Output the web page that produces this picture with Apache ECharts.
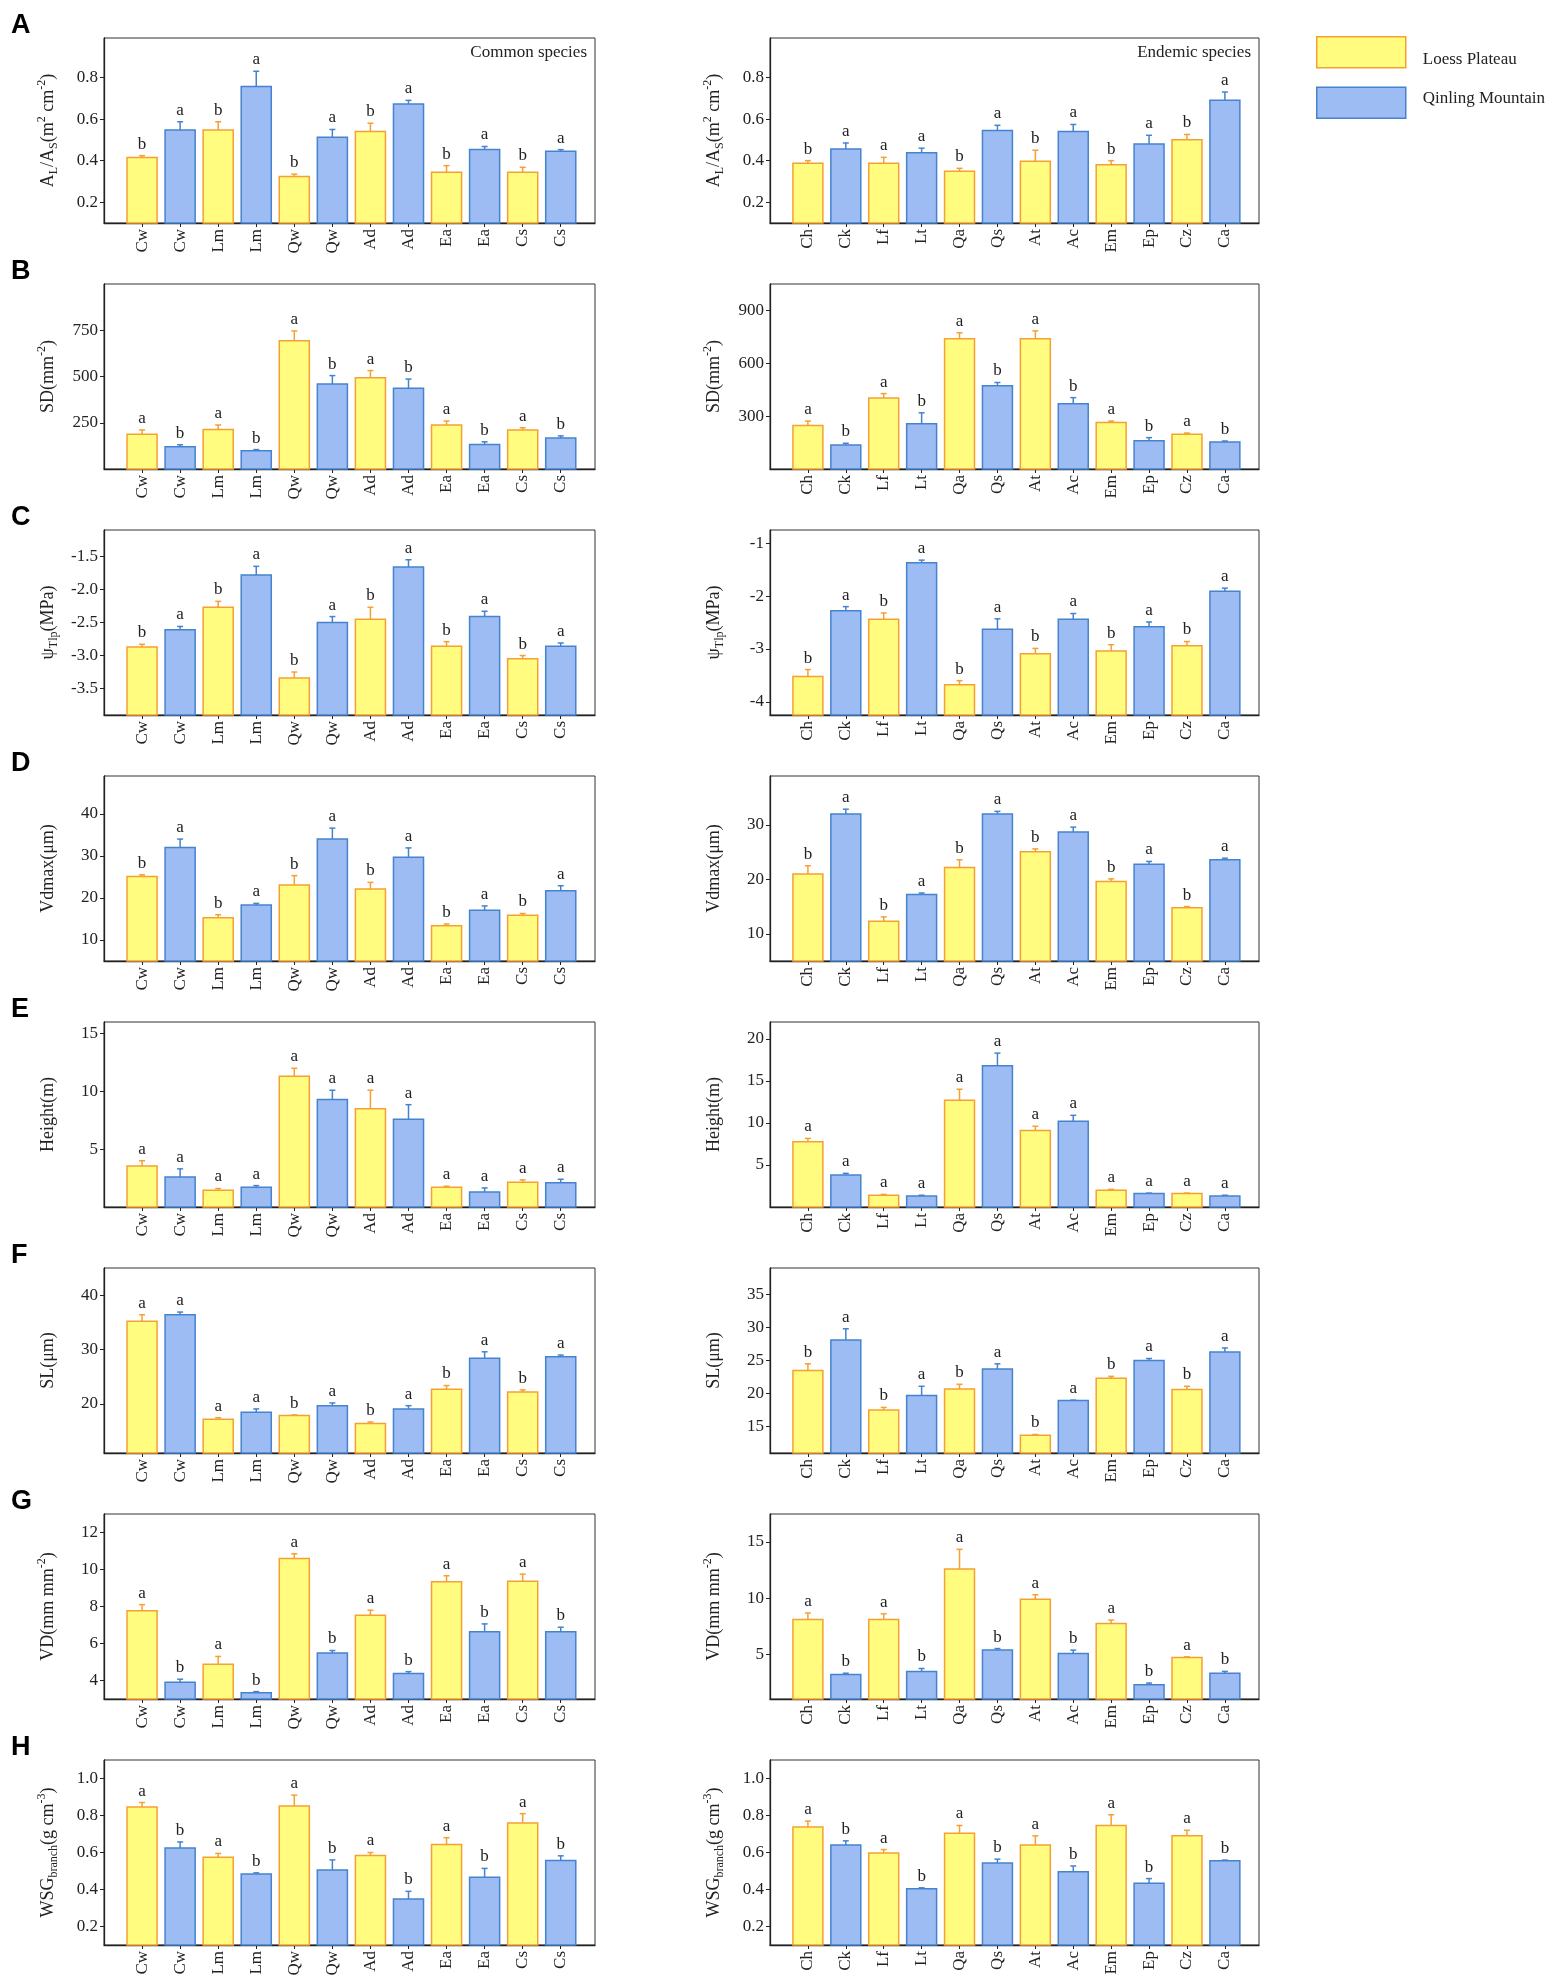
<!DOCTYPE html>
<html><head><meta charset="utf-8">
<script src="https://cdn.jsdelivr.net/npm/echarts@6/dist/echarts.min.js"></script>
<style>html,body{margin:0;padding:0;background:#fff}#chart{width:1562px;height:1983px}</style>
</head><body><div id="chart"></div>
<script>
// ---------- categories ----------
const commonSpecies  = ['Cw','Cw','Lm','Lm','Qw','Qw','Ad','Ad','Ea','Ea','Cs','Cs'];
const endemicSpecies = ['Ch','Ck','Lf','Lt','Qa','Qs','At','Ac','Em','Ep','Cz','Ca'];
const regions = ['Loess Plateau', 'Qinling Mountain'];
const panelLetters = ['A','B','C','D','E','F','G','H'];
const groupLabels = ['Common species', 'Endemic species'];

// ---------- A: AL/AS ----------
const alasCommon      = [0.415,0.547,0.547,0.757,0.324,0.512,0.540,0.673,0.344,0.453,0.344,0.445];
const alasCommonSE    = [0.009,0.040,0.040,0.073,0.011,0.038,0.040,0.017,0.032,0.015,0.024,0.008];
const alasCommonSig   = ['b','a','b','a','b','a','b','a','b','a','b','a'];
const alasEndemic     = [0.387,0.456,0.387,0.438,0.349,0.545,0.397,0.540,0.380,0.480,0.500,0.690];
const alasEndemicSE   = [0.013,0.029,0.029,0.022,0.014,0.025,0.053,0.034,0.020,0.042,0.026,0.040];
const alasEndemicSig  = ['b','a','a','a','b','a','b','a','b','a','b','a'];
// ---------- B: SD ----------
const sdCommon        = [188,120,213,99,693,459,493,436,238,133,211,167];
const sdCommonSE      = [23,11,25,6,53,46,39,50,21,14,12,12];
const sdCommonSig     = ['a','b','a','b','a','b','a','b','a','b','a','b'];
const sdEndemic       = [247,136,403,257,739,473,739,371,264,161,197,153];
const sdEndemicSE     = [25,10,25,62,34,18,45,34,8,17,7,6];
const sdEndemicSig    = ['a','b','a','b','a','b','a','b','a','b','a','b'];
// ---------- C: psi TLP ----------
const psiCommon       = [-2.87,-2.61,-2.27,-1.78,-3.34,-2.50,-2.45,-1.66,-2.86,-2.41,-3.05,-2.86];
const psiCommonSE     = [0.04,0.05,0.09,0.13,0.09,0.09,0.18,0.11,0.07,0.08,0.05,0.05];
const psiCommonSig    = ['b','a','b','a','b','a','b','a','b','a','b','a'];
const psiEndemic      = [-3.52,-2.28,-2.44,-1.37,-3.68,-2.63,-3.09,-2.44,-3.04,-2.58,-2.94,-1.91];
const psiEndemicSE    = [0.13,0.08,0.12,0.05,0.08,0.20,0.10,0.11,0.12,0.09,0.08,0.06];
const psiEndemicSig   = ['b','a','b','a','b','a','b','a','b','a','b','a'];
// ---------- D: Vdmax ----------
const vdmaxCommon     = [25.1,32.0,15.3,18.3,23.1,34.0,22.1,29.7,13.4,17.1,15.9,21.7];
const vdmaxCommonSE   = [0.4,2.0,0.7,0.4,2.2,2.6,1.6,2.2,0.4,1.0,0.4,1.2];
const vdmaxCommonSig  = ['b','a','b','a','b','a','b','a','b','a','b','a'];
const vdmaxEndemic    = [21.0,32.0,12.3,17.2,22.2,32.0,25.1,28.7,19.6,22.8,14.8,23.6];
const vdmaxEndemicSE  = [1.5,0.9,0.8,0.3,1.4,0.5,0.5,0.9,0.5,0.5,0.2,0.3];
const vdmaxEndemicSig = ['b','a','b','a','b','a','b','a','b','a','b','a'];
// ---------- E: Height ----------
const heightCommon    = [3.54,2.6,1.45,1.7,11.3,9.3,8.5,7.6,1.7,1.3,2.15,2.1];
const heightCommonSE  = [0.46,0.7,0.15,0.15,0.7,0.8,1.6,1.25,0.1,0.35,0.2,0.3];
const heightCommonSig = ['a','a','a','a','a','a','a','a','a','a','a','a'];
const heightEndemic   = [7.76,3.8,1.4,1.3,12.7,16.8,9.1,10.2,2.0,1.6,1.6,1.3];
const heightEndemicSE = [0.4,0.2,0.1,0.1,1.3,1.5,0.5,0.7,0.1,0.05,0.05,0.1];
const heightEndemicSig= ['a','a','a','a','a','a','a','a','a','a','a','a'];
// ---------- F: SL ----------
const slCommon        = [35.2,36.4,17.2,18.5,17.9,19.7,16.4,19.1,22.7,28.4,22.2,28.7];
const slCommonSE      = [1.2,0.5,0.3,0.6,0.1,0.5,0.3,0.6,0.7,1.2,0.4,0.3];
const slCommonSig     = ['a','a','a','a','b','a','b','a','b','a','b','a'];
const slEndemic       = [23.5,28.1,17.5,19.7,20.7,23.7,13.7,18.95,22.3,25.0,20.6,26.3];
const slEndemicSE     = [1.0,1.7,0.4,1.4,0.7,0.8,0.1,0.05,0.3,0.3,0.5,0.6];
const slEndemicSig    = ['b','a','b','a','b','a','b','a','b','a','b','a'];
// ---------- G: VD ----------
const vdCommon        = [7.77,3.9,4.88,3.34,10.6,5.48,7.53,4.38,9.34,6.63,9.37,6.63];
const vdCommonSE      = [0.33,0.17,0.42,0.06,0.25,0.14,0.27,0.1,0.32,0.43,0.38,0.25];
const vdCommonSig     = ['a','b','a','b','a','b','a','b','a','b','a','b'];
const vdEndemic       = [8.1,3.19,8.1,3.46,12.6,5.36,9.9,5.06,7.74,2.27,4.7,3.3];
const vdEndemicSE     = [0.57,0.11,0.5,0.26,1.75,0.14,0.4,0.3,0.3,0.15,0.06,0.16];
const vdEndemicSig    = ['a','b','a','b','a','b','a','b','a','b','a','b'];
// ---------- H: WSG branch ----------
const wsgCommon       = [0.846,0.625,0.575,0.484,0.852,0.506,0.584,0.348,0.643,0.466,0.760,0.557];
const wsgCommonSE     = [0.024,0.032,0.020,0.006,0.058,0.054,0.016,0.042,0.037,0.048,0.050,0.025];
const wsgCommonSig    = ['a','b','a','b','a','b','a','b','a','b','a','b'];
const wsgEndemic      = [0.738,0.640,0.597,0.404,0.704,0.543,0.640,0.496,0.746,0.434,0.690,0.555];
const wsgEndemicSE    = [0.032,0.023,0.019,0.005,0.042,0.021,0.050,0.031,0.058,0.025,0.030,0.004];
const wsgEndemicSig   = ['a','b','a','b','a','b','a','b','a','b','a','b'];

// ---------- tick labels ----------
const alasTicks = [0.2,0.4,0.6,0.8];
const sdCommonTicks = [250,500,750];
const sdEndemicTicks = [300,600,900];
const psiCommonTicks = [-3.5,-3.0,-2.5,-2.0,-1.5];
const psiEndemicTicks = [-4,-3,-2,-1];
const vdmaxCommonTicks = [10,20,30,40];
const vdmaxEndemicTicks = [10,20,30];
const heightCommonTicks = [5,10,15];
const heightEndemicTicks = [5,10,15,20];
const slCommonTicks = [20,30,40];
const slEndemicTicks = [15,20,25,30,35];
const vdCommonTicks = [4,6,8,10,12];
const vdEndemicTicks = [5,10,15];
const wsgTicks = [0.2,0.4,0.6,0.8,1.0];
const barPositions = [1,2,3,4,5,6,7,8,9,10,11,12];

// ---------- axis titles (rich text) ----------
const axisTitles = [
  '{n|A}{sub|L}{n|/A}{sub|S}{n|(m}{sup|2}{n| cm}{sup|-2}{n|)}',
  '{n|SD(mm}{sup|-2}{n|)}',
  '{n|ψ}{sub|Tlp}{n|(MPa)}',
  '{n|Vdmax(μm)}',
  '{n|Height(m)}',
  '{n|SL(μm)}',
  '{n|VD(mm mm}{sup|-2}{n|)}',
  '{n|WSG}{sub|branch}{n|(g cm}{sup|-3}{n|)}'
];

// panel table: [mean, se, sig, yMin, yMax, ticks, decimals]
const panels = [
  [[alasCommon, alasCommonSE, alasCommonSig, 0.1, 0.99, alasTicks, 1],
   [alasEndemic, alasEndemicSE, alasEndemicSig, 0.1, 0.99, alasTicks, 1]],
  [[sdCommon, sdCommonSE, sdCommonSig, 0, 1000, sdCommonTicks, 0],
   [sdEndemic, sdEndemicSE, sdEndemicSig, 0, 1050, sdEndemicTicks, 0]],
  [[psiCommon, psiCommonSE, psiCommonSig, -3.9, -1.1, psiCommonTicks, 1],
   [psiEndemic, psiEndemicSE, psiEndemicSig, -4.25, -0.75, psiEndemicTicks, 0]],
  [[vdmaxCommon, vdmaxCommonSE, vdmaxCommonSig, 5, 49, vdmaxCommonTicks, 0],
   [vdmaxEndemic, vdmaxEndemicSE, vdmaxEndemicSig, 5, 39, vdmaxEndemicTicks, 0]],
  [[heightCommon, heightCommonSE, heightCommonSig, 0, 16, heightCommonTicks, 0],
   [heightEndemic, heightEndemicSE, heightEndemicSig, 0, 22, heightEndemicTicks, 0]],
  [[slCommon, slCommonSE, slCommonSig, 11, 45, slCommonTicks, 0],
   [slEndemic, slEndemicSE, slEndemicSig, 11, 39, slEndemicTicks, 0]],
  [[vdCommon, vdCommonSE, vdCommonSig, 3, 13, vdCommonTicks, 0],
   [vdEndemic, vdEndemicSE, vdEndemicSig, 1, 17.5, vdEndemicTicks, 0]],
  [[wsgCommon, wsgCommonSE, wsgCommonSig, 0.1, 1.1, wsgTicks, 1],
   [wsgEndemic, wsgEndemicSE, wsgEndemicSig, 0.1, 1.1, wsgTicks, 1]]
];

// ---------- styles ----------
const SERIF = '"Liberation Serif", "Times New Roman", serif';
const TXT = '#222';
const fills = ['#FFFC80', '#9DBCF3'];
const edges = ['#F5A033', '#4583CE'];
const gridLeft = [104, 770], gridWidth = [491, 489];
const gridTop0 = 38, rowStep = 246, gridH = 185;

const richTitle = {
  n:   {fontFamily: SERIF, fontSize: 18, color: TXT, lineHeight: 24, verticalAlign: 'middle'},
  sup: {fontFamily: SERIF, fontSize: 12, color: TXT, lineHeight: 24, verticalAlign: 'top'},
  sub: {fontFamily: SERIF, fontSize: 12, color: TXT, lineHeight: 24, verticalAlign: 'bottom'}
};

const grids = [], xAxes = [], yAxes = [], series = [];
panels.forEach((row, r) => {
  row.forEach((p, c) => {
    const gi = grids.length;
    const [mean, se, sig, yMin, yMax, ticks, dec] = p;
    const cats = c === 0 ? commonSpecies : endemicSpecies;
    grids.push({left: gridLeft[c], width: gridWidth[c], top: gridTop0 + r * rowStep, height: gridH,
      show: true, borderColor: '#333', borderWidth: 1, backgroundColor: 'transparent', containLabel: false});
    xAxes.push({type: 'value', gridIndex: gi, min: 0, max: 12.9,
      axisLine: {show: true, onZero: false, lineStyle: {color: '#222', width: 1.3}},
      axisTick: {show: true, length: 4, customValues: barPositions, lineStyle: {color: '#222'}},
      axisLabel: {show: true, customValues: barPositions, rotate: 90, margin: 6,
        fontFamily: SERIF, fontSize: 17, color: TXT,
        formatter: v => cats[Math.round(v) - 1] || ''},
      splitLine: {show: false}});
    yAxes.push({type: 'value', gridIndex: gi, min: yMin, max: yMax,
      axisLine: {show: true, onZero: false, lineStyle: {color: '#222', width: 1.3}},
      axisTick: {show: true, length: 4, customValues: ticks, lineStyle: {color: '#222'}},
      axisLabel: {show: true, customValues: ticks, margin: 6, fontFamily: SERIF, fontSize: 17, color: TXT,
        formatter: v => Number(v).toFixed(dec)},
      splitLine: {show: false},
      name: axisTitles[r], nameLocation: 'middle', nameGap: 44,
      nameTextStyle: {rich: richTitle}});
    [0, 1].forEach(reg => {
      const data = [], letters = [];
      for (let k = 0; k < 12; k++) {
        if (k % 2 === reg) { data.push([barPositions[k], mean[k], se[k]]); letters.push(sig[k]); }
      }
      const fill = fills[reg], edge = edges[reg];
      series.push({
        type: 'custom', name: regions[reg], xAxisIndex: gi, yAxisIndex: gi, data: data,
        itemStyle: {color: fill, borderColor: edge, borderWidth: 1.5},
        renderItem: (params, api) => {
          const x = api.value(0), m = api.value(1), e = api.value(2);
          const top = api.coord([x, m]);
          const base = api.coord([x, yMin]);
          const errP = api.coord([x, m + e]);
          const w = api.size([0.79, 0])[0];
          return {type: 'group', children: [
            {type: 'rect', shape: {x: top[0] - w / 2, y: top[1], width: w, height: base[1] - top[1]},
              style: {fill: fill, stroke: edge, lineWidth: 1.5}},
            {type: 'line', shape: {x1: top[0], y1: top[1], x2: top[0], y2: errP[1]},
              style: {stroke: edge, lineWidth: 1.5}},
            {type: 'line', shape: {x1: top[0] - 3, y1: errP[1], x2: top[0] + 3, y2: errP[1]},
              style: {stroke: edge, lineWidth: 1.5}},
            {type: 'text', style: {text: letters[params.dataIndex], x: top[0], y: errP[1] - 3,
              align: 'center', verticalAlign: 'bottom', fontFamily: SERIF, fontSize: 17, fill: TXT}}
          ]};
        }
      });
    });
  });
});

const graphics = panelLetters.map((L, i) => ({
  type: 'text', x: 11, y: gridTop0 + i * rowStep - 12,
  style: {text: L, align: 'left', verticalAlign: 'middle', font: 'bold 27px "Liberation Sans", Arial, sans-serif', fill: '#000'}
}));
graphics.push({type: 'text', x: gridLeft[0] + gridWidth[0] - 8, y: gridTop0 + 15,
  style: {text: groupLabels[0], align: 'right', verticalAlign: 'middle', fontFamily: SERIF, fontSize: 17, fill: TXT}});
graphics.push({type: 'text', x: gridLeft[1] + gridWidth[1] - 8, y: gridTop0 + 15,
  style: {text: groupLabels[1], align: 'right', verticalAlign: 'middle', fontFamily: SERIF, fontSize: 17, fill: TXT}});

const chart = echarts.init(document.getElementById('chart'), null, {renderer: 'canvas'});
chart.setOption({
  animation: false,
  backgroundColor: '#fff',
  grid: grids, xAxis: xAxes, yAxis: yAxes, series: series,
  legend: {
    orient: 'vertical', left: 1316, top: 36, padding: 0, itemWidth: 89, itemHeight: 31, itemGap: 18, icon: 'rect',
    data: [
      {name: regions[0], itemStyle: {color: fills[0], borderColor: edges[0], borderWidth: 1.5}},
      {name: regions[1], itemStyle: {color: fills[1], borderColor: edges[1], borderWidth: 1.5}}
    ],
    formatter: name => name === regions[0] ? '{a|' + name + '}' : '{b|' + name + '}',
    textStyle: {rich: {
      a: {fontFamily: SERIF, fontSize: 17, color: TXT, padding: [14, 0, 0, 12]},
      b: {fontFamily: SERIF, fontSize: 17, color: TXT, padding: [0, 0, 8, 12]}
    }}
  },
  graphic: graphics
});
</script></body></html>
